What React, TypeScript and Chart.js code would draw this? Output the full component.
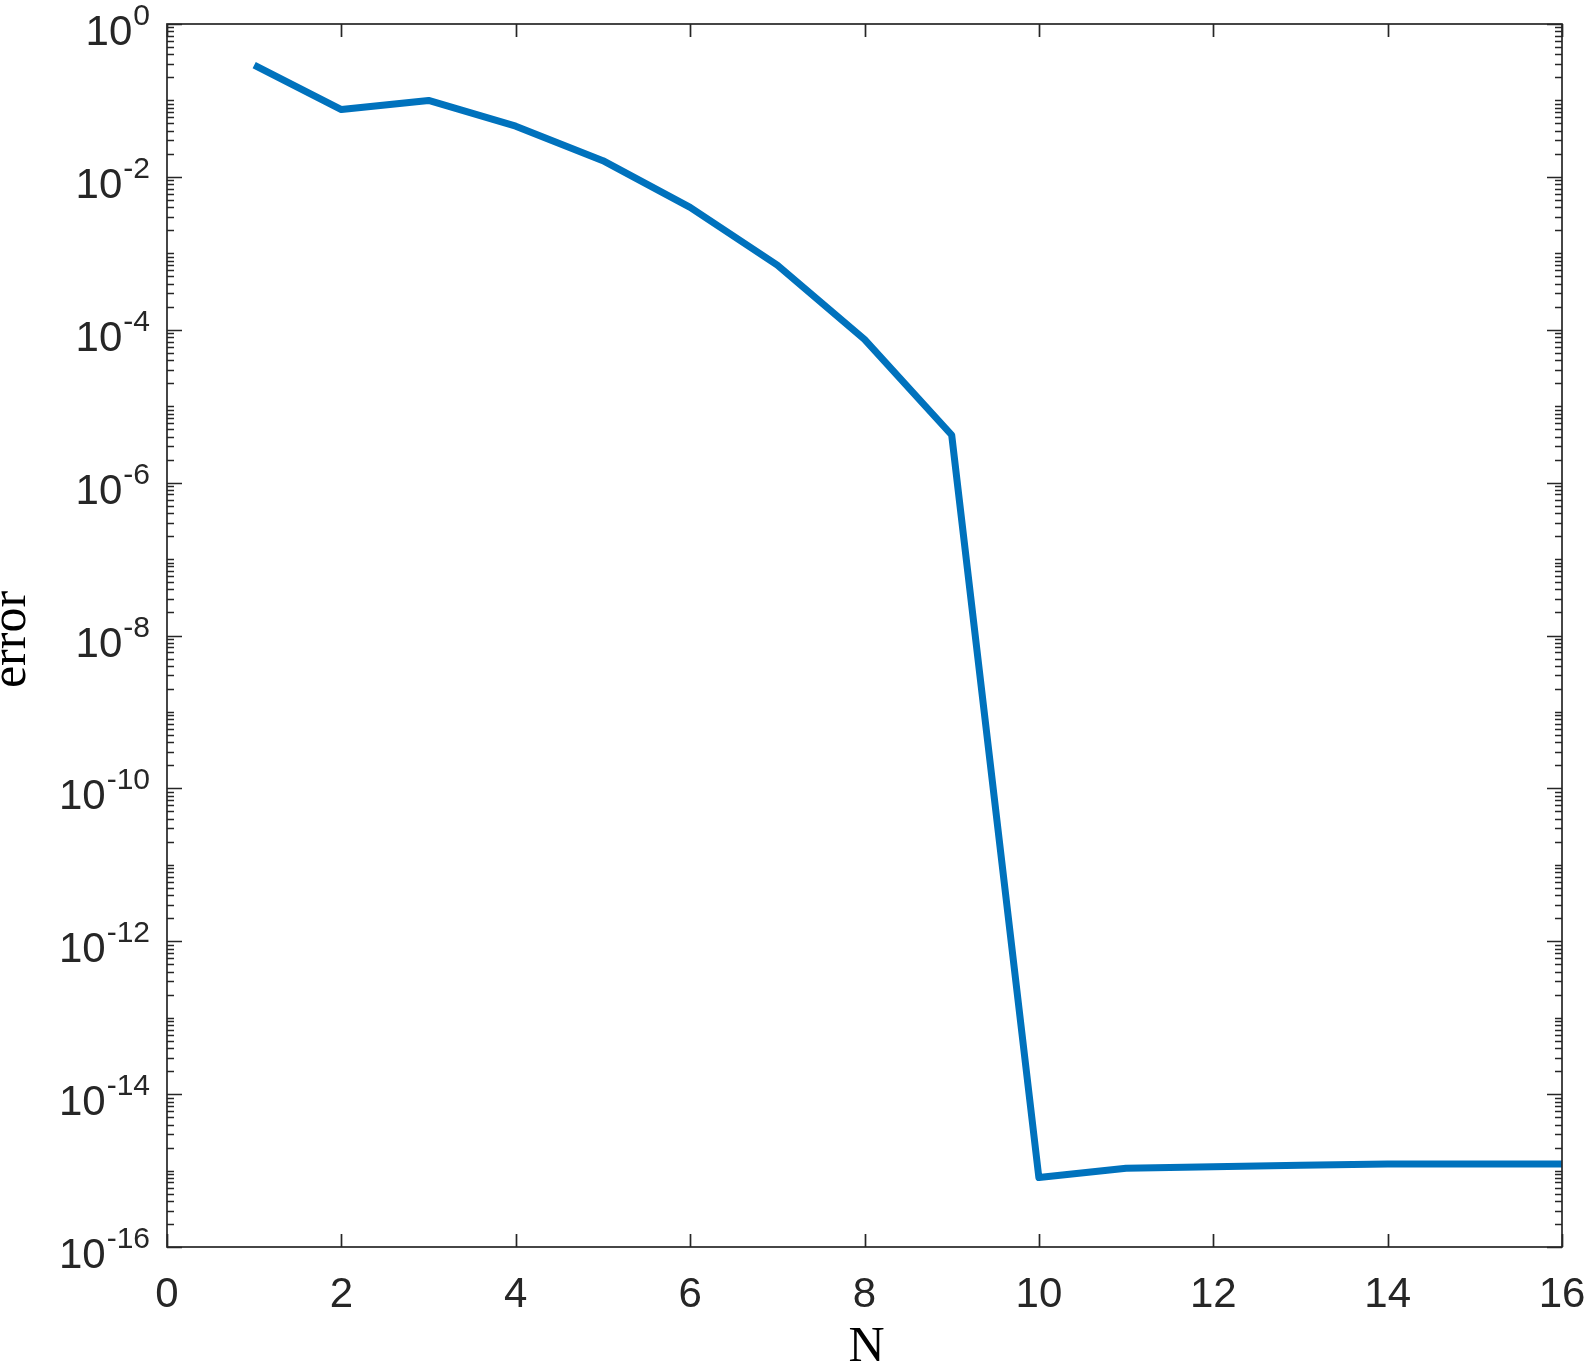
import React, { useEffect, useRef } from "react";
import { Chart, registerables } from "chart.js";

Chart.register(...registerables);

const N_VALUES = [1, 2, 3, 4, 5, 6, 7, 8, 9, 10, 11, 12, 13, 14, 15, 16];
const ERROR_VALUES = [
  0.29, 0.076, 0.1, 0.046, 0.0163, 0.004, 7.0e-4, 7.5e-5, 4.2e-6,
  8.1e-16, 1.07e-15, 1.12e-15, 1.17e-15, 1.22e-15, 1.22e-15, 1.22e-15,
];
const X_TICKS = [0, 2, 4, 6, 8, 10, 12, 14, 16];
const Y_EXPONENTS = [0, -2, -4, -6, -8, -10, -12, -14, -16];
const X_LABEL = "N";
const Y_LABEL = "error";

const W = 1587;
const H = 1364;
const AXIS_COLOR = "#262626";
const LINE_COLOR = "#0072BD";

const axesPlugin = {
  id: "matlabAxes",
  afterDraw(chart: any) {
    const { ctx, chartArea, scales } = chart;
    const { left, right, top, bottom } = chartArea;
    const xs = scales.x;
    const ys = scales.y;
    ctx.save();
    ctx.strokeStyle = AXIS_COLOR;
    ctx.fillStyle = AXIS_COLOR;
    ctx.lineWidth = 1.7;
    ctx.strokeRect(left, top, right - left, bottom - top);

    // x ticks
    ctx.beginPath();
    for (const t of X_TICKS) {
      const px = Math.round(xs.getPixelForValue(t)) + 0.5;
      ctx.moveTo(px, bottom);
      ctx.lineTo(px, bottom - 13);
      ctx.moveTo(px, top);
      ctx.lineTo(px, top + 13);
    }
    ctx.stroke();
    ctx.font = '42px "Liberation Sans", Arial, sans-serif';
    ctx.textAlign = "center";
    ctx.textBaseline = "alphabetic";
    for (const t of X_TICKS) {
      const px = xs.getPixelForValue(t);
      ctx.fillText(String(t), px, bottom + 60);
    }

    // y ticks (major + minor)
    const kMax = Y_EXPONENTS[0];
    const kMin = Y_EXPONENTS[Y_EXPONENTS.length - 1];
    const majorSet = new Set(Y_EXPONENTS);
    ctx.beginPath();
    for (let k = kMin; k <= kMax; k++) {
      for (let m = 1; m <= 9; m++) {
        const v = m * Math.pow(10, k);
        if (v > Math.pow(10, kMax) * 1.0001) continue;
        const py = Math.round(ys.getPixelForValue(v)) + 0.5;
        const major = m === 1 && majorSet.has(k);
        const len = major ? 15 : 7;
        ctx.moveTo(left, py);
        ctx.lineTo(left + len, py);
        ctx.moveTo(right, py);
        ctx.lineTo(right - len, py);
      }
    }
    ctx.stroke();

    // y labels 10^k
    const anchor = 150;
    for (const k of Y_EXPONENTS) {
      const py = ys.getPixelForValue(Math.pow(10, k));
      const expStr = k === 0 ? "0" : "-" + String(-k);
      ctx.font = '30px "Liberation Sans", Arial, sans-serif';
      const we = ctx.measureText(expStr).width;
      ctx.textAlign = "left";
      ctx.fillText(expStr, anchor - we, py + 1);
      ctx.font = '42px "Liberation Sans", Arial, sans-serif';
      ctx.textAlign = "right";
      ctx.fillText("10", anchor - we - 1, py + 21);
    }

    // axis titles
    ctx.font = '50px "Liberation Serif", "Times New Roman", serif';
    ctx.textAlign = "center";
    ctx.fillStyle = "#000000";
    ctx.fillText(X_LABEL, (left + right) / 2 + 2, bottom + 114);
    ctx.save();
    ctx.translate(25, (top + bottom) / 2 + 4);
    ctx.rotate(-Math.PI / 2);
    ctx.textAlign = "center";
    ctx.fillText(Y_LABEL, 0, 0);
    ctx.restore();

    ctx.restore();
  },
};

export default function App() {
  const canvasRef = useRef<HTMLCanvasElement | null>(null);

  useEffect(() => {
    const canvas = canvasRef.current;
    if (!canvas) return;
    const data = N_VALUES.map((n, i) => ({ x: n, y: ERROR_VALUES[i] }));
    const chart = new Chart(canvas, {
      type: "line",
      data: {
        datasets: [
          {
            data,
            borderColor: LINE_COLOR,
            backgroundColor: LINE_COLOR,
            borderWidth: 7,
            pointRadius: 0,
            pointHoverRadius: 0,
            tension: 0,
            fill: false,
            borderJoinStyle: "round",
            borderCapStyle: "butt",
          },
        ],
      },
      options: {
        animation: false,
        responsive: false,
        devicePixelRatio: 1,
        events: [],
        layout: { padding: { left: 167, top: 24, right: 25, bottom: 117 } },
        plugins: {
          legend: { display: false },
          tooltip: { enabled: false },
          title: { display: false },
        },
        scales: {
          x: { type: "linear", min: 0, max: 16, display: false },
          y: { type: "logarithmic", min: 1e-16, max: 1, display: false },
        },
      },
      plugins: [axesPlugin],
    });
    return () => chart.destroy();
  }, []);

  return (
    <div style={{ position: "absolute", left: 0, top: 0, width: W, height: H, background: "#ffffff" }}>
      <canvas ref={canvasRef} width={W} height={H} style={{ width: W, height: H, display: "block" }} />
    </div>
  );
}
